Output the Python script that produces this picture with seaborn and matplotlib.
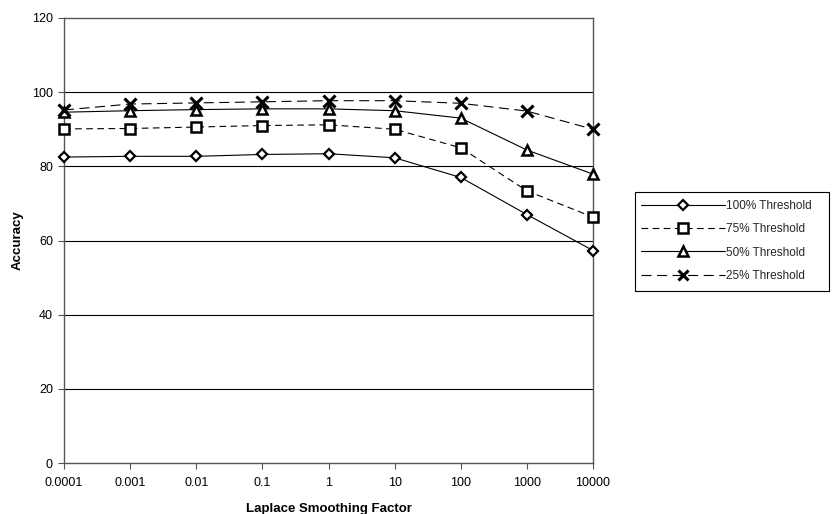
import matplotlib
matplotlib.use("Agg")
import matplotlib.pyplot as plt
import seaborn as sns
import pandas as pd
from matplotlib.lines import Line2D
from matplotlib.patches import Rectangle

factors = ["0.0001", "0.001", "0.01", "0.1", "1", "10", "100", "1000", "10000"]
thr100 = [82.5, 82.7, 82.7, 83.2, 83.4, 82.3, 77.0, 67.0, 57.3]
thr75 = [90.1, 90.2, 90.6, 91.0, 91.2, 90.0, 85.0, 73.4, 66.3]
thr50 = [94.6, 95.0, 95.3, 95.5, 95.5, 95.0, 93.0, 84.4, 77.9]
thr25 = [95.2, 96.8, 97.1, 97.4, 97.7, 97.7, 97.0, 94.9, 90.0]
labels = ["100% Threshold", "75% Threshold", "50% Threshold", "25% Threshold"]
yticks = [0, 20, 40, 60, 80, 100, 120]

sns.set_theme(style="white")
plt.rcParams["font.family"] = ["Liberation Sans", "DejaVu Sans"]

fig = plt.figure(figsize=(8.32, 5.14), dpi=100)
ax = fig.add_axes([64/832, 1-463/514, (593-64)/832, (463-18)/514])

rows = []
for lab, vals in zip(labels, [thr100, thr75, thr50, thr25]):
    for f, v in zip(factors, vals):
        rows.append({"factor": f, "acc": v, "series": lab})
df = pd.DataFrame(rows)

styles = {
    "100% Threshold": dict(marker="D", ms=5.5, ls="-", mfc="white", mew=1.6),
    "75% Threshold": dict(marker="s", ms=7, ls=(0, (6, 4)), mfc="white", mew=1.8),
    "50% Threshold": dict(marker="^", ms=7, ls="-", mfc="white", mew=1.8),
    "25% Threshold": dict(marker="x", ms=8, ls=(0, (9, 5)), mfc="white", mew=2.2),
}

for lab in labels:
    st = styles[lab]
    sub = df[df["series"] == lab]
    sns.lineplot(data=sub, x="factor", y="acc", ax=ax, color="black",
                 linewidth=0.8, marker=st["marker"], markersize=st["ms"],
                 markerfacecolor=st["mfc"], markeredgecolor="black",
                 markeredgewidth=st["mew"], linestyle=st["ls"],
                 clip_on=False, zorder=3, legend=False, sort=False)

ax.set_xlim(0, len(factors) - 1)
ax.set_ylim(0, 120)
ax.set_yticks(yticks)
ax.set_xticks(range(len(factors)))
ax.set_xticklabels(factors)
for y in yticks[1:-1]:
    ax.axhline(y, color="black", linewidth=0.8, zorder=1)

for side in ["left", "bottom", "top", "right"]:
    ax.spines[side].set_visible(True)
    ax.spines[side].set_color("#555555")
    ax.spines[side].set_linewidth(1.0)

ax.tick_params(axis="both", which="both", direction="out", length=4,
               width=0.8, color="#555555", labelsize=9, labelcolor="black",
               bottom=True, left=True, pad=4)
ax.tick_params(axis="x", pad=6)
ax.set_xlabel("Laplace Smoothing Factor", fontsize=9.5, fontweight="bold",
              labelpad=10, color="black")
ax.set_ylabel("Accuracy", fontsize=9.5, fontweight="bold", labelpad=6,
              color="black")

# legend frame
fig.patches.append(Rectangle((635/832, 1-291/514), (829-635)/832,
                             (291-192)/514, transform=fig.transFigure,
                             facecolor="white", edgecolor="black",
                             linewidth=0.8, zorder=0))

handles = []
for lab in labels:
    st = styles[lab]
    handles.append(Line2D([], [], color="black", linewidth=0.8,
                          linestyle=st["ls"], marker=st["marker"],
                          markersize=st["ms"] - 0.5, markerfacecolor="white",
                          markeredgecolor="black",
                          markeredgewidth=st["mew"]))
leg = fig.legend(handles, labels, loc="center left",
                 bbox_to_anchor=(641/832, 1-241/514), fontsize=8.5,
                 frameon=False, handlelength=7.1, handletextpad=0.1,
                 labelspacing=0.95, borderpad=0, borderaxespad=0)

fig.savefig("out.png", dpi=100)
